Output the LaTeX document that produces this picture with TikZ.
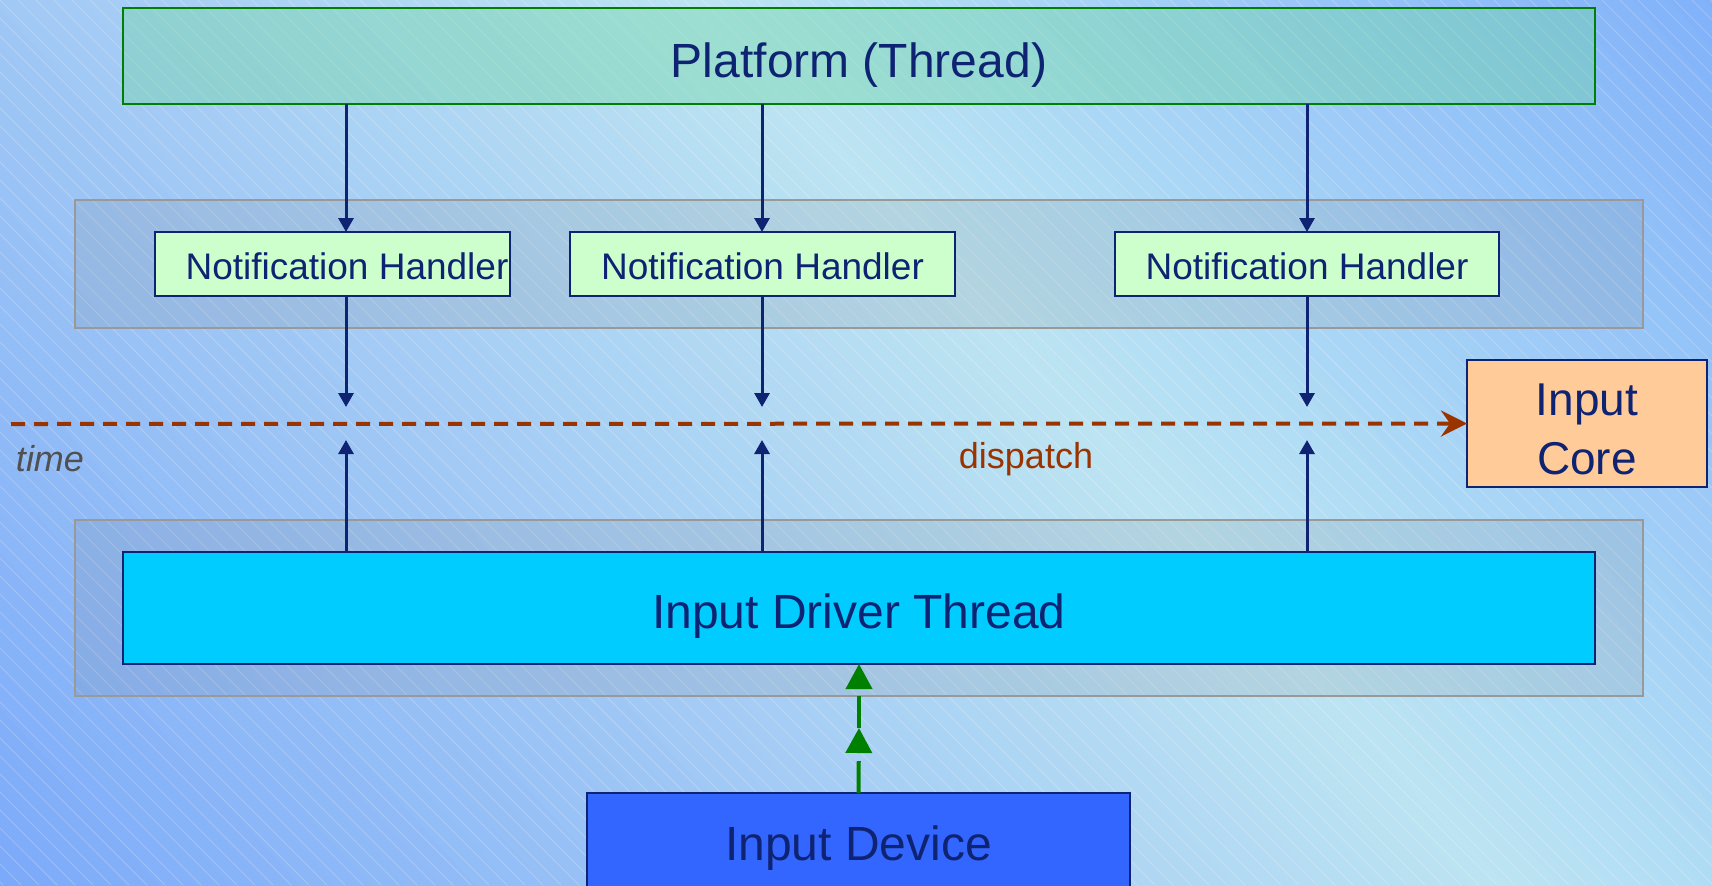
\documentclass[tikz,border=0pt]{standalone}
\usepackage{fontspec}
\setmainfont{Liberation Sans}
\usetikzlibrary{arrows.meta}

\definecolor{navy}{RGB}{15,35,115}
\definecolor{platgreen}{RGB}{0,128,0}
\definecolor{platfill}{RGB}{110,215,160}
\definecolor{groupgray}{RGB}{153,153,153}
\definecolor{nhgreen}{RGB}{204,255,204}
\definecolor{drvcyan}{RGB}{0,204,255}
\definecolor{devblue}{RGB}{51,102,255}
\definecolor{corepeach}{RGB}{255,204,153}
\definecolor{timered}{RGB}{153,51,0}
\definecolor{timegray}{RGB}{80,80,80}
\definecolor{feedgreen}{RGB}{0,128,0}
% backdrop colour stops, across the diagonal
\definecolor{bgA}{RGB}{122,168,250}
\definecolor{bgB}{RGB}{160,200,245}
\definecolor{bgC}{RGB}{188,228,242}
\definecolor{bgD}{RGB}{176,220,245}
\definecolor{bgE}{RGB}{125,173,250}

\begin{document}
\begin{tikzpicture}[x=0.5pt,y=-0.5pt,
  every node/.style={inner sep=0pt, outer sep=0pt},
  bigfont/.style={font=\fontsize{24}{29.5}\selectfont},
  smallfont/.style={font=\fontsize{18.5}{22}\selectfont},
  hatch/.style={draw=white, draw opacity=0.22, line width=0.4pt},
  box/.style={draw=navy, line width=1pt, text=navy},
  platbox/.style={draw=platgreen, line width=1pt, fill=platfill, fill opacity=0.4,
    text opacity=1, text=navy, bigfont},
  groupbox/.style={draw=groupgray, line width=1pt, fill=gray, fill opacity=0.15},
  nhbox/.style={box, fill=nhgreen, smallfont, minimum height=32pt,
    text height=15.7pt, text depth=0pt},
  flow/.style={draw=navy, line width=1.5pt, -{Triangle[width=7.5pt,length=7pt]}},
  timeline/.style={draw=timered, line width=2pt, dash pattern=on 7pt off 4.5pt,
    -{Stealth[length=13pt,width=13pt,inset=4.5pt]}},
  feed/.style={draw=feedgreen, line width=2pt, dash pattern=on 16pt off 10pt,
    -{Triangle[width=13pt,length=12.5pt]}}]

\useasboundingbox (0,0) rectangle (1712,885);

% backdrop: diagonal gradient in thin strips, then fine white lines
\begin{scope}
  \clip (0,0) rectangle (1712,885);
  \begin{scope}[shift={(700,0)}, rotate=42]
    \foreach \sa/\sb/\ca/\cb in {-1150/-525/bgA/bgB, -525/0/bgB/bgC,
                                 0/160/bgC/bgD, 160/800/bgD/bgE}{
      \foreach \j in {0,...,23}{
        \pgfmathsetmacro\xa{\sa+(\sb-\sa)*\j/24}
        \pgfmathsetmacro\xw{(\sb-\sa)/24+1.5}
        \pgfmathsetmacro\pc{100*(\j+0.5)/24}
        \fill[\cb!\pc!\ca] (\xa,-2200) rectangle ++(\xw,4400);
      }}
  \end{scope}
  \foreach \i in {-900,-882,...,1720}
    \draw[hatch] (\i,0) -- ++(885,885);
\end{scope}

% group frames
\node[groupbox, minimum width=784pt, minimum height=64pt] (grp1) at (859,264) {};
\node[groupbox, minimum width=784pt, minimum height=88pt] (grp2) at (859,608) {};

% main blocks
\node[platbox, minimum width=736pt, minimum height=48pt, text height=21pt, text depth=0pt]
  (plat) at (859,56) {Platform (Thread)};
\node[nhbox, minimum width=177.5pt] (nh1) at (332.5,264) {\hspace*{14.5pt}Notification Handler};
\node[nhbox, minimum width=192.5pt] (nh2) at (762.5,264) {Notification Handler};
\node[nhbox, minimum width=192pt] (nh3) at (1307,264) {Notification Handler};
\node[box, fill=drvcyan, bigfont, minimum width=736pt, minimum height=56pt,
      text height=20.5pt, text depth=0pt] (drv) at (859,608) {Input Driver Thread};
\node[box, fill=devblue, bigfont, minimum width=271.5pt, minimum height=50pt,
      text height=17pt, text depth=0pt] (dev) at (858.5,843) {Input Device};
\node[box, fill=corepeach, font=\fontsize{23}{29.5}\selectfont, align=center,
      minimum width=120pt, minimum height=63.5pt] (core) at (1587,423.5)
  {\rule{0pt}{22pt}Input\\Core};

% column positions and arrow ends
\coordinate (c1) at (346,0);
\coordinate (c2) at (762,0);
\coordinate (c3) at (1307,0);
\coordinate (d1) at (346,407);
\coordinate (d2) at (762,407);
\coordinate (d3) at (1307,407);
\coordinate (u1) at (346,440);
\coordinate (u2) at (762,440);
\coordinate (u3) at (1307,440);
\coordinate (tstart) at (11,424);
\coordinate (gmid) at (859,728);

% time axis
\draw[timeline] (tstart) -- (core.west);
\node[anchor=west, text=timegray, font=\fontsize{18}{22}\selectfont\itshape] (time) at (16,459) {time};
\node[text=timered, font=\fontsize{18}{22}\selectfont] (disp) at (1026,459) {dispatch};

% platform to handlers
\draw[flow] (plat.south -| c1) -- (nh1.north -| c1);
\draw[flow] (plat.south -| c2) -- (nh2.north -| c2);
\draw[flow] (plat.south -| c3) -- (nh3.north -| c3);

% handlers down to the time axis
\draw[flow] (nh1.south -| c1) -- (d1);
\draw[flow] (nh2.south -| c2) -- (d2);
\draw[flow] (nh3.south -| c3) -- (d3);

% driver up to the time axis
\draw[flow] (drv.north -| c1) -- (u1);
\draw[flow] (drv.north -| c2) -- (u2);
\draw[flow] (drv.north -| c3) -- (u3);

% device feeding the driver
\draw[feed] (dev.north) -- (gmid);
\draw[feed] (gmid) -- (drv.south);
\end{tikzpicture}
\end{document}
